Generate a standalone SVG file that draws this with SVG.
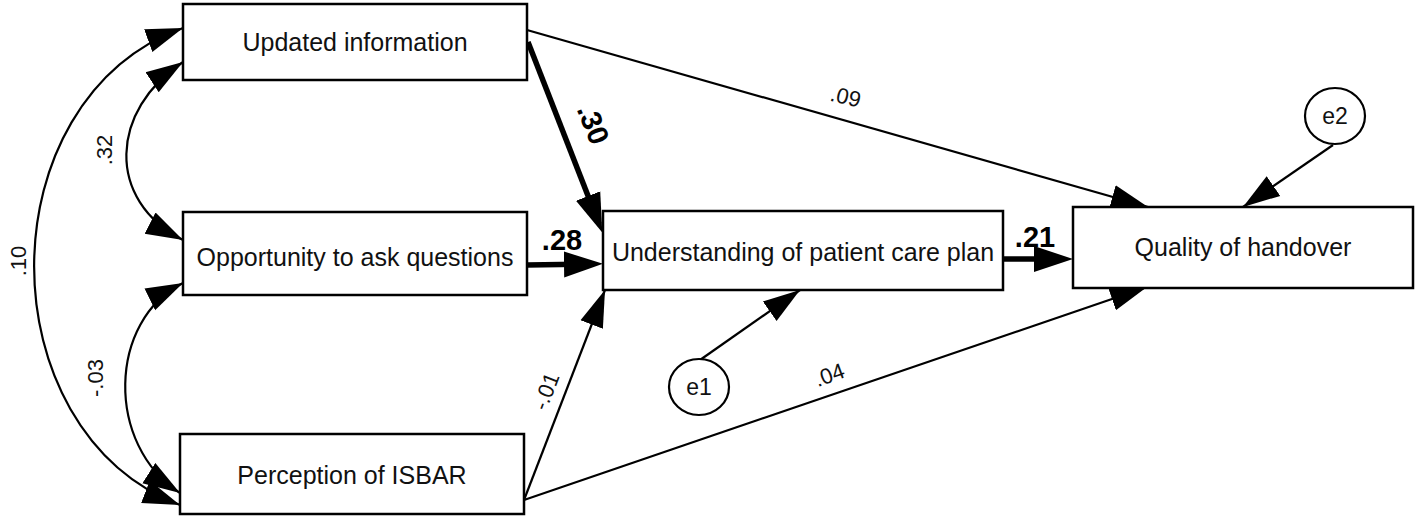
<svg xmlns="http://www.w3.org/2000/svg" width="1418" height="521" viewBox="0 0 1418 521">
<style>
.box{fill:#fff;stroke:#000;stroke-width:2.5}
.lbl{font-family:"Liberation Sans",Arial,sans-serif;font-size:25px;fill:#111;text-anchor:middle}
.elbl{font-family:"Liberation Sans",Arial,sans-serif;font-size:23px;fill:#111;text-anchor:middle}
.coef{font-family:"Liberation Sans",Arial,sans-serif;font-size:22px;fill:#111;text-anchor:middle}
.bold{font-family:"Liberation Sans",Arial,sans-serif;font-size:29px;font-weight:bold;fill:#000;text-anchor:middle}
.thin{fill:none;stroke:#000;stroke-width:2.2}
.thick{fill:none;stroke:#000;stroke-width:5.5}
</style>
<defs>
<marker id="ah" markerUnits="userSpaceOnUse" markerWidth="38" markerHeight="26" viewBox="0 0 38 26" refX="37" refY="13" orient="auto-start-reverse">
<path d="M0,1 L37,13 L0,25 z" fill="#000"/>
</marker>
<marker id="ahk" markerUnits="userSpaceOnUse" markerWidth="40" markerHeight="28" viewBox="0 0 40 28" refX="30" refY="14" orient="auto">
<path d="M0,1 L39,14 L0,27 z" fill="#000"/>
</marker>
</defs>
<g id="connectors">
<path class="thin" d="M183,62 C110,110 105,200 183,240" marker-start="url(#ah)" marker-end="url(#ah)"/>
<path class="thin" d="M183,283 C108,320 105,445 180,493" marker-start="url(#ah)" marker-end="url(#ah)"/>
<path class="thin" d="M183,28 C-15,100 -15,430 180,505" marker-start="url(#ah)" marker-end="url(#ah)"/>
<line class="thick" x1="528" y1="42" x2="599" y2="224" marker-end="url(#ahk)"/>
<line class="thin" x1="527" y1="30" x2="1148" y2="207" marker-end="url(#ah)"/>
<line class="thick" x1="527" y1="265" x2="594" y2="264" marker-end="url(#ahk)"/>
<line class="thick" x1="1003" y1="259" x2="1064" y2="259" marker-end="url(#ahk)"/>
<line class="thin" x1="524" y1="500" x2="605" y2="290" marker-end="url(#ah)"/>
<line class="thin" x1="524" y1="500" x2="1147" y2="287" marker-end="url(#ah)"/>
<line class="thin" x1="700" y1="360" x2="800" y2="290" marker-end="url(#ah)"/>
<line class="thin" x1="1333" y1="145" x2="1243" y2="207" marker-end="url(#ah)"/>
<text class="coef" transform="translate(112,150) rotate(-90)">.32</text>
<text class="coef" transform="translate(26,261) rotate(-90)">.10</text>
<text class="coef" transform="translate(103,378) rotate(-90)">-.03</text>
<text class="bold" transform="translate(584,128) rotate(68)">.30</text>
<text class="coef" transform="translate(844,104) rotate(13)">.09</text>
<text class="bold" x="562" y="250">.28</text>
<text class="bold" x="1035" y="247">.21</text>
<text class="coef" transform="translate(553,394) rotate(-69)">-.01</text>
<text class="coef" transform="translate(832,382) rotate(-20)">.04</text>
</g>
<g id="n-updated"><rect class="box" x="183" y="4" width="344" height="76"/><text class="lbl" x="355" y="51">Updated information</text></g>
<g id="n-opportunity"><rect class="box" x="183" y="212" width="344" height="83"/><text class="lbl" x="355" y="266">Opportunity to ask questions</text></g>
<g id="n-perception"><rect class="box" x="180" y="434" width="344" height="80"/><text class="lbl" x="352" y="484">Perception of ISBAR</text></g>
<g id="n-understanding"><rect class="box" x="603" y="211" width="400" height="79"/><text class="lbl" x="803" y="261">Understanding of patient care plan</text></g>
<g id="n-quality"><rect class="box" x="1073" y="207" width="340" height="81"/><text class="lbl" x="1243" y="256">Quality of handover</text></g>
<g id="n-e1"><ellipse cx="699" cy="387" rx="30" ry="28" fill="#fff" stroke="#000" stroke-width="2.2"/><text class="elbl" x="699" y="395">e1</text></g>
<g id="n-e2"><ellipse cx="1335" cy="116" rx="30" ry="28" fill="#fff" stroke="#000" stroke-width="2.2"/><text class="elbl" x="1335" y="124">e2</text></g>
</svg>
